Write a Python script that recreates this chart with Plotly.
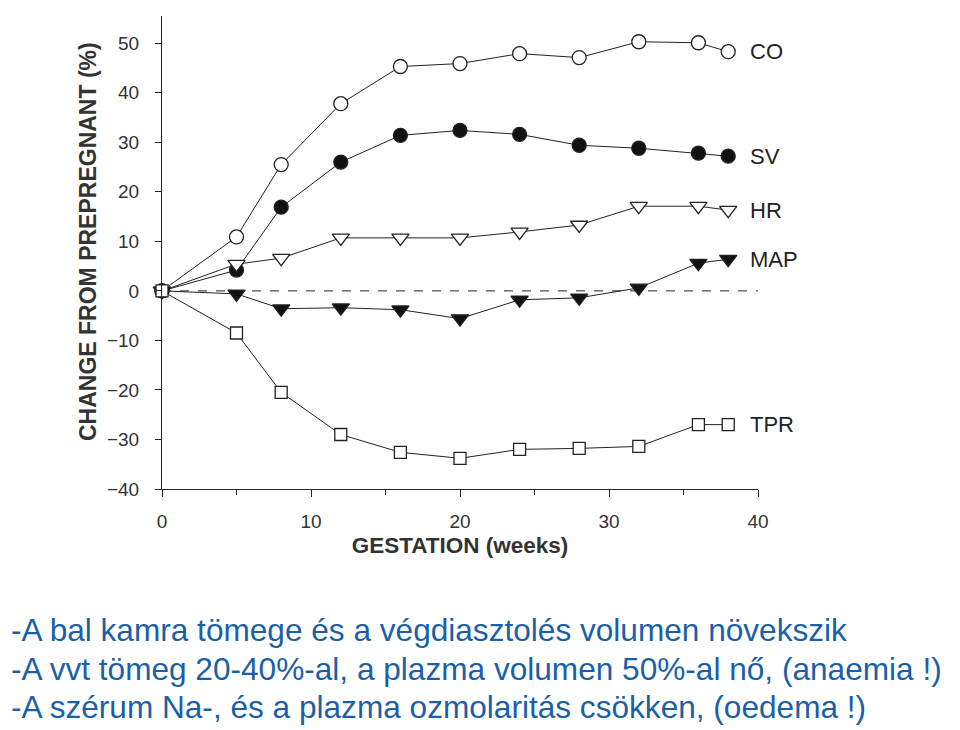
import plotly.graph_objects as go

weeks = [0, 5, 8, 12, 16, 20, 24, 28, 32, 36, 38]
co = [0, 10.9, 25.5, 37.8, 45.3, 45.9, 47.9, 47.1, 50.3, 50.1, 48.3]
sv = [0, 4.2, 16.9, 26.0, 31.4, 32.4, 31.6, 29.4, 28.8, 27.8, 27.2]
hr = [0, 5.4, 6.6, 10.7, 10.7, 10.7, 11.9, 13.3, 17.1, 17.1, 16.3]
map_ = [0, -0.6, -3.6, -3.4, -3.8, -5.6, -1.8, -1.4, 0.6, 5.6, 6.4]
tpr = [0, -8.5, -20.5, -29.0, -32.6, -33.8, -32.0, -31.8, -31.4, -27.0, -27.0]

series_names = ["CO", "SV", "HR", "MAP", "TPR"]
series_values = [co, sv, hr, map_, tpr]
series_symbols = ["circle", "circle", "triangle-down", "triangle-down", "square"]
series_fill = ["white", "#111111", "white", "#111111", "white"]
series_sizes = [14, 14, 15, 15, 12]

y_ticks = [-40, -30, -20, -10, 0, 10, 20, 30, 40, 50]
x_ticks = [0, 10, 20, 30, 40]

notes = [
    "-A bal kamra tömege és a végdiasztolés volumen növekszik",
    "-A vvt tömeg 20-40%-al, a plazma volumen 50%-al nő, (anaemia !)",
    "-A szérum Na-, és a plazma ozmolaritás csökken, (oedema !)",
]

ink = "#222222"
OFF = 8
W, H = 960 - OFF, 730 - OFF
plot_top, plot_bottom, plot_left, plot_right = 16 - OFF, 489 - OFF, 162 - OFF, 758 - OFF


def px_to_paper(xpix, ypix):
    return ((xpix - plot_left) / (plot_right - plot_left),
            (plot_bottom - ypix) / (plot_bottom - plot_top))


fig = go.Figure()

fig.add_shape(type="line", x0=0, x1=40, y0=0, y1=0, xref="x", yref="y",
              line=dict(color=ink, width=1, dash="dash"), layer="below")

for name, vals, sym, fill, sz in zip(series_names, series_values, series_symbols,
                                     series_fill, series_sizes):
    fig.add_trace(go.Scatter(
        x=weeks, y=vals, mode="lines+markers", name=name,
        line=dict(color=ink, width=1),
        marker=dict(symbol=sym, size=sz, color=fill, line=dict(color=ink, width=1.3)),
        showlegend=False, cliponaxis=False,
    ))
    fig.add_annotation(x=39.3, y=vals[-1], xref="x", yref="y", text=name,
                       showarrow=False, xanchor="left", yanchor="middle",
                       font=dict(family="Liberation Sans, Arial", size=22, color=ink))

for i, txt in enumerate(notes):
    px, py = px_to_paper(1, 630 - OFF + 38.5 * i)
    fig.add_annotation(x=px, y=py, xref="paper", yref="paper", text=txt,
                       showarrow=False, xanchor="left", yanchor="middle",
                       font=dict(family="Liberation Sans, Arial", size=31.6, color="#1a5fa8"))

# y axis title placed as rotated text
tx, ty = px_to_paper(88 - OFF, 242 - OFF)
fig.add_annotation(x=tx, y=ty, xref="paper", yref="paper",
                   text="<b>CHANGE FROM PREPREGNANT (%)</b>", textangle=-90,
                   showarrow=False, xanchor="center", yanchor="middle",
                   font=dict(family="Liberation Sans, Arial", size=23, color="#333333"))

fig.update_layout(
    width=W, height=H,
    margin=dict(l=plot_left, r=W - plot_right, t=plot_top, b=H - plot_bottom),
    plot_bgcolor="white", paper_bgcolor="white",
    font=dict(family="Liberation Sans, Arial", color=ink),
)
fig.update_xaxes(
    range=[0, 40], tickvals=x_ticks, ticks="outside", ticklen=7, tickwidth=1,
    tickcolor=ink, showline=True, linecolor=ink, linewidth=1, showgrid=False,
    zeroline=False, tickfont=dict(size=19, color="#333333"), ticklabelstandoff=8,
    minor=dict(ticks="outside", ticklen=5, tickvals=[5, 15, 25, 35], tickcolor=ink, showgrid=False),
    title=dict(text="<b>GESTATION (weeks)</b>", font=dict(size=22.5, color="#333333"), standoff=6),
)
fig.update_yaxes(
    range=[-40, 55.5], tickvals=y_ticks, ticks="outside", ticklen=6, tickwidth=1,
    tickcolor=ink, showline=True, linecolor=ink, linewidth=1, showgrid=False,
    zeroline=False, tickfont=dict(size=19, color="#333333"), ticklabelstandoff=12,
)

fig.write_html("out.html")
